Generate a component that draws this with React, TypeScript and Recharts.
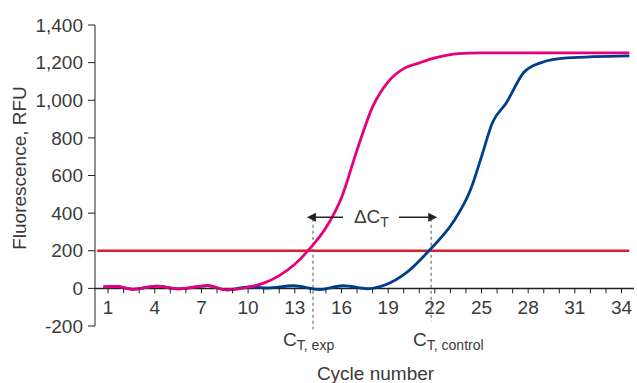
import { LineChart, Line, XAxis, YAxis, ReferenceLine, ReferenceDot } from 'recharts';

// qPCR amplification curves
const expCycles = [0.7, 1.5, 2.6, 4.1, 5.6, 7.4, 8.6, 10.1, 11.0, 12.0, 13.0, 14.0, 15.0, 16.0, 17.0, 18.0, 19.0, 20.0, 21.0, 22.0, 23.5, 25.0, 34.5];
const expRfu = [8, 10, -5, 12, -3, 15, -8, 8, 28, 68, 128, 215, 322, 482, 735, 965, 1098, 1168, 1198, 1225, 1248, 1252, 1252];

const ctlCycles = [0.7, 1.5, 2.6, 4.1, 5.6, 7.4, 8.6, 10.1, 11.2, 12.9, 14.6, 16.1, 17.7, 18.7, 20.2, 21.7, 23.2, 24.3, 25.0, 25.7, 26.6, 27.7, 28.8, 30.5, 34.5];
const ctlRfu = [8, 10, -5, 12, -3, 15, -8, 8, 2, 14, -6, 14, -2, 15, 85, 207, 355, 525, 700, 880, 987, 1146, 1199, 1225, 1236];

const threshold = 200;
const ctExp = 14.17;
const ctControl = 21.76;

const yTicks = [-200, 0, 200, 400, 600, 800, 1000, 1200, 1400];
const xTicks = Array.from({ length: 34 }, (_, i) => i + 1);
const labeledTicks = [1, 4, 7, 10, 13, 16, 19, 22, 25, 28, 31, 34];

const expData = expCycles.map((c, i) => ({ cycle: c, rfu: expRfu[i] }));
const ctlData = ctlCycles.map((c, i) => ({ cycle: c, rfu: ctlRfu[i] }));

const W = 637;
const H = 383;
const TOP = 25;
const BOTTOM = 57;
const Y_MIN = -200;
const Y_MAX = 1400;
const PLOT_H = H - TOP - BOTTOM;
const ZERO_Y = TOP + (PLOT_H * Y_MAX) / (Y_MAX - Y_MIN);

const FONT = '"Liberation Sans", Arial, sans-serif';
const TEXT = '#3a3a3a';
const INK = '#222';

function CycleTick({ x, payload }: any) {
  const v = payload.value;
  return (
    <g>
      <line x1={x} y1={ZERO_Y} x2={x} y2={ZERO_Y + 5} stroke={INK} strokeWidth={1} />
      {labeledTicks.includes(v) && (
        <text x={x} y={ZERO_Y + 26} textAnchor="middle" fontSize={19} fontFamily={FONT} fill={TEXT}>
          {v}
        </text>
      )}
    </g>
  );
}

function Arrow(props: any) {
  const { x1, y1, x2, y2 } = props;
  const dir = x2 > x1 ? 1 : -1;
  return (
    <g>
      <line x1={x1} y1={y1} x2={x2 - dir * 6} y2={y2} stroke={INK} strokeWidth={1.5} />
      <polygon points={`${x2},${y2} ${x2 - dir * 9},${y2 - 4.5} ${x2 - dir * 9},${y2 + 4.5}`} fill={INK} />
    </g>
  );
}

function subLabel(main: string, sub: string) {
  return (props: any) => (
    <text x={props.cx} y={props.cy} fontFamily={FONT} fill={TEXT} fontSize={19}>
      {main}
      <tspan fontSize={14} dy={4}>{sub}</tspan>
    </text>
  );
}

export default function App() {
  return (
    <div style={{ position: 'absolute', left: 0, top: 0, background: '#fff' }}>
      <LineChart width={W} height={H} margin={{ top: TOP, right: 3, bottom: 0, left: 0 }}>
        <XAxis
          type="number"
          dataKey="cycle"
          domain={[0.16, 34.8]}
          ticks={xTicks}
          interval={0}
          axisLine={false}
          tickLine={false}
          height={BOTTOM}
          tick={<CycleTick />}
          label={{
            content: ({ viewBox }: any) => (
              <text
                x={viewBox.x + viewBox.width / 2 + 11}
                y={viewBox.y + 54}
                textAnchor="middle"
                fontSize={19}
                fontFamily={FONT}
                fill={TEXT}
              >
                Cycle number
              </text>
            ),
          }}
        />
        <YAxis
          type="number"
          domain={[Y_MIN, Y_MAX]}
          ticks={yTicks}
          width={95}
          tickSize={7}
          tickMargin={5}
          stroke={INK}
          tick={{ fill: TEXT, fontSize: 19, fontFamily: FONT }}
          tickFormatter={(v: number) => v.toLocaleString('en-US')}
          label={{
            content: () => (
              <text
                transform="translate(26,168) rotate(-90)"
                textAnchor="middle"
                fontSize={19}
                fontFamily={FONT}
                fill={TEXT}
              >
                Fluorescence, RFU
              </text>
            ),
          }}
        />
        <ReferenceLine y={0} stroke={INK} strokeWidth={1.5} />
        <ReferenceLine
          segment={[{ x: 0.3, y: threshold }, { x: 34.5, y: threshold }]}
          stroke="#d6212b"
          strokeWidth={2.5}
        />
        <ReferenceLine
          segment={[{ x: ctExp, y: 370 }, { x: ctExp, y: -218 }]}
          stroke="#555"
          strokeDasharray="3 3"
          ifOverflow="visible"
        />
        <ReferenceLine
          segment={[{ x: ctControl, y: 370 }, { x: ctControl, y: -175 }]}
          stroke="#555"
          strokeDasharray="3 3"
          ifOverflow="visible"
        />
        <Line
          data={ctlData}
          dataKey="rfu"
          type="monotone"
          stroke="#003e8c"
          strokeWidth={2.8}
          dot={false}
          isAnimationActive={false}
        />
        <Line
          data={expData}
          dataKey="rfu"
          type="monotone"
          stroke="#e6007e"
          strokeWidth={2.8}
          dot={false}
          isAnimationActive={false}
        />
        <ReferenceLine segment={[{ x: 16.1, y: 378 }, { x: 13.78, y: 378 }]} shape={Arrow} />
        <ReferenceLine segment={[{ x: 19.7, y: 378 }, { x: 22.15, y: 378 }]} shape={Arrow} />
        <ReferenceDot x={16.8} y={350} r={0} ifOverflow="visible" shape={subLabel('ΔC', 'T')} />
        <ReferenceDot x={12.25} y={-308} r={0} ifOverflow="visible" shape={subLabel('C', 'T, exp')} />
        <ReferenceDot x={20.6} y={-308} r={0} ifOverflow="visible" shape={subLabel('C', 'T, control')} />
      </LineChart>
    </div>
  );
}
